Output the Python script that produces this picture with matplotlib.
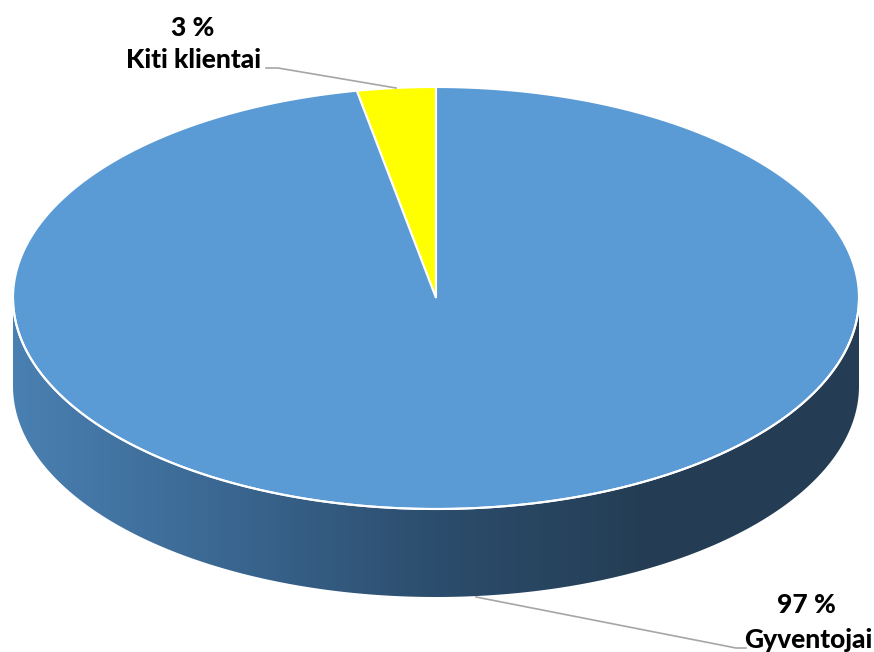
import matplotlib.pyplot as plt
import numpy as np
from matplotlib.patches import Polygon
from matplotlib.colors import LinearSegmentedColormap

labels = ["Kiti klientai", "Gyventojai"]
values = [3, 97]
colors = ["#ffff00", "#5b9bd5"]

# pie geometry in pixel units (y down)
cx, cy = 436, 298
a, b = 423, 211
depth = 88

fig = plt.figure(figsize=(8.74, 6.52), dpi=100)
ax = fig.add_axes([0, 0, 1, 1])
ax.set_xlim(0, 874)
ax.set_ylim(652, 0)
ax.axis("off")


def ell(t):
    return cx + a * np.cos(t), cy - b * np.sin(t)


# side (front half) with horizontal gradient
t = np.linspace(np.pi, 2 * np.pi, 200)
xt, yt = ell(t)
side = np.vstack([np.column_stack([xt, yt]), np.column_stack([xt[::-1], yt[::-1] + depth])])
side_poly = Polygon(side, closed=True, facecolor="none", edgecolor="none")
ax.add_patch(side_poly)
grad = np.linspace(0, 1, 256)[None, :]
cmap = LinearSegmentedColormap.from_list("side", ["#4a80b2", "#3a6791", "#2c4d6d", "#243d54", "#243d54"])
im = ax.imshow(grad, cmap=cmap, extent=[cx - a, cx + a, cy + b + depth, cy - 10],
               aspect="auto", zorder=1)
im.set_clip_path(side_poly)

# white rim on front edge
ax.plot(xt, yt, color="white", lw=1.5, zorder=3)

# top face wedges, starting at 90 deg, counterclockwise
total = sum(values)
start = np.pi / 2
for v, c in zip(values, colors):
    span = 2 * np.pi * v / total
    tt = np.linspace(start, start + span, 300)
    px, py = ell(tt)
    pts = np.vstack([[cx, cy], np.column_stack([px, py])])
    ax.add_patch(Polygon(pts, closed=True, facecolor=c, edgecolor="white", lw=1.5, zorder=2))
    start += span

font = dict(family=["Lato", "DejaVu Sans"], fontweight=900, fontsize=19, color="black")

# labels and leader lines
ax.text(193, 28, "%d %%" % values[0], ha="center", va="center", **font)
ax.text(193, 60, labels[0], ha="center", va="center", **font)
ax.plot([266, 278, 396], [68, 68, 88], color="#a6a6a6", lw=1.2, zorder=4)

ax.text(806, 605, "%d %%" % values[1], ha="center", va="center", **font)
ax.text(808, 640, labels[1], ha="center", va="center", **font)
ax.plot([476, 736, 746], [597, 648, 648], color="#a6a6a6", lw=1.2, zorder=4)

fig.savefig("out.png", dpi=100)
